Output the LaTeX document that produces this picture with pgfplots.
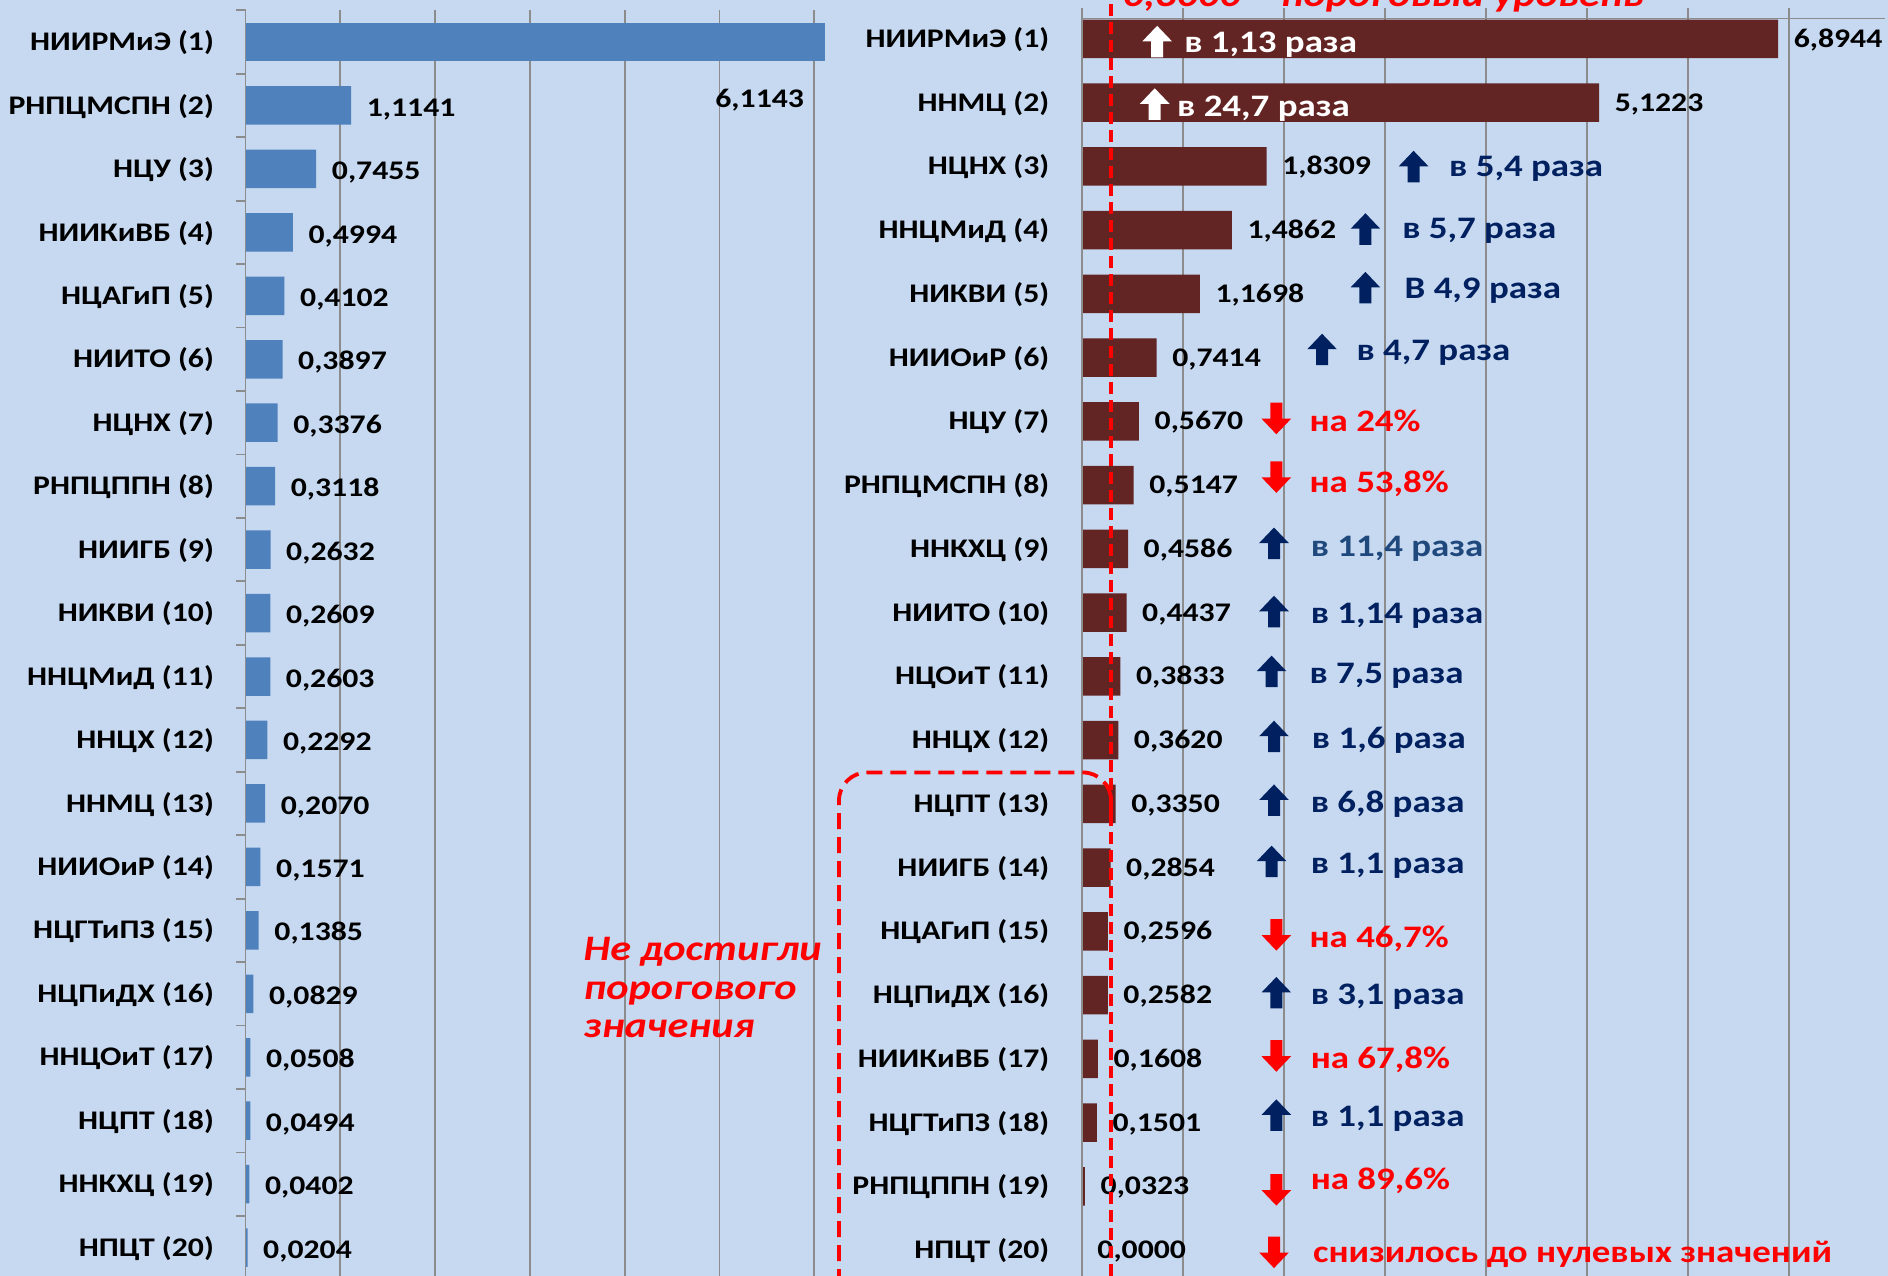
\documentclass[border=0pt]{standalone}
\usepackage{fontspec}
\setmainfont{Carlito}[FakeStretch=1.18]
\usepackage{pgfplots}
\pgfplotsset{compat=1.18}

\definecolor{bgblue}{HTML}{C6D9F1}
\definecolor{barblue}{HTML}{4F81BD}
\definecolor{barred}{HTML}{632523}
\definecolor{navy}{HTML}{002060}
\definecolor{steel}{HTML}{1F497D}
\definecolor{gridgray}{HTML}{8C8C8C}

\newcommand\lab{\fontsize{7.65pt}{9pt}\selectfont\bfseries}
\newcommand\ann{\fontsize{8.9pt}{10pt}\selectfont\bfseries}

% block arrows and notes, used inside the right axis
\newcommand\arrUp[3]{\fill[#1] (axis cs:#2,#3) ++(-0.06cm,-0.16cm) -- ++(0cm,0.16cm) -- ++(-0.088cm,0cm) -- ++(0.148cm,0.155cm) -- ++(0.148cm,-0.155cm) -- ++(-0.088cm,0cm) -- ++(0cm,-0.16cm) -- cycle;}
\newcommand\arrDn[3]{\fill[#1] (axis cs:#2,#3) ++(-0.06cm,0.16cm) -- ++(0cm,-0.16cm) -- ++(-0.088cm,0cm) -- ++(0.148cm,-0.155cm) -- ++(0.148cm,0.155cm) -- ++(-0.088cm,0cm) -- ++(0cm,0.16cm) -- cycle;}
\newcommand\note[4]{\node[anchor=west,inner sep=0pt,text height=0.198cm,text depth=0pt,font=\ann,text=#1] at (axis cs:#2,#3) {#4};}

\pgfplotsset{
  twobars/.style={
    y dir=reverse, xmin=0,
    axis line style={draw=none},
    major tick length=0pt,
    xticklabels={},
    xmajorgrids, major grid style={gridgray,line width=0.5pt},
    ytick={1,...,20},
    yticklabel style={font=\lab,anchor=east,inner sep=0pt,text height=0.173cm,text depth=0pt},
    clip=false,
  },
  vals/.style={
    nodes near coords={\pgfmathprintnumber[fixed,fixed zerofill,precision=4,use comma,assume math mode=true]{\pgfplotspointmeta}},
    every node near coord/.append style={font=\lab,text=black,anchor=west,inner sep=0pt,text height=0.173cm,text depth=0pt,xshift=0.15cm},
  },
}

\begin{document}
\begin{tikzpicture}
\fill[bgblue] (0,0) rectangle (18.88,12.76);

% left chart
\begin{axis}[twobars,
  at={(2.456cm,12.657cm)}, anchor=north west,
  x=0.9476cm, y=0.6345cm,
  xmax=6.5, ymin=0.5, ymax=20.6,
  xtick={1,...,6},
  yticklabel style={xshift=-0.31cm},
  yticklabels={НИИРМиЭ (1),РНПЦМСПН (2),НЦУ (3),НИИКиВБ (4),НЦАГиП (5),НИИТО (6),НЦНХ (7),РНПЦППН (8),НИИГБ (9),НИКВИ (10),ННЦМиД (11),ННЦХ (12),ННМЦ (13),НИИОиР (14),НЦГТиПЗ (15),НЦПиДХ (16),ННЦОиТ (17),НЦПТ (18),ННКХЦ (19),НПЦТ (20)},
]
\addplot[xbar,bar shift=0pt,bar width=0.385cm,fill=barblue,draw=none] coordinates {(6.1143,1)};
\addplot[xbar,bar shift=0pt,bar width=0.385cm,fill=barblue,draw=none,vals,every node near coord/.append style={yshift=-0.02cm}] coordinates {
(1.1141,2) (0.7455,3) (0.4994,4) (0.4102,5) (0.3897,6) (0.3376,7) (0.3118,8) (0.2632,9) (0.2609,10) (0.2603,11)
(0.2292,12) (0.2070,13) (0.1571,14) (0.1385,15) (0.0829,16) (0.0508,17) (0.0494,18) (0.0402,19) (0.0204,20)};
\draw[gridgray,line width=0.5pt] (axis cs:0,0.5) -- (axis cs:0,20.6);
\pgfplotsinvokeforeach{0.5,1.5,...,20.5}{\draw[gridgray,line width=0.5pt] (axis cs:0,#1) -- ++(-0.1cm,0cm);}
\node[font=\lab,anchor=east,inner sep=0pt,text height=0.173cm,text depth=0pt] at (axis cs:5.9,1.9) {6,1143};
\end{axis}

% right chart
\begin{axis}[twobars,
  at={(10.817cm,12.575cm)}, anchor=north west,
  x=1.01cm, y=0.6375cm,
  xmax=7.95, ymin=0.682, ymax=21,
  xtick={1,...,7},
  yticklabel style={xshift=-0.317cm},
  yticklabels={НИИРМиЭ (1),ННМЦ (2),НЦНХ (3),ННЦМиД (4),НИКВИ (5),НИИОиР (6),НЦУ (7),РНПЦМСПН (8),ННКХЦ (9),НИИТО (10),НЦОиТ (11),ННЦХ (12),НЦПТ (13),НИИГБ (14),НЦАГиП (15),НЦПиДХ (16),НИИКиВБ (17),НЦГТиПЗ (18),РНПЦППН (19),НПЦТ (20)},
]
\addplot[xbar,bar shift=0pt,bar width=0.385cm,fill=barred,draw=none,vals] coordinates {
(6.8944,1) (5.1223,2) (1.8309,3) (1.4862,4) (1.1698,5) (0.7414,6) (0.5670,7) (0.5147,8) (0.4586,9) (0.4437,10)
(0.3833,11) (0.3620,12) (0.3350,13) (0.2854,14) (0.2596,15) (0.2582,16) (0.1608,17) (0.1501,18) (0.0323,19) (0,20)};
\draw[gridgray,line width=0.5pt] (axis cs:0,0.682) -- (axis cs:0,21);
\draw[gridgray,line width=0.5pt] (axis cs:0,0.682) -- (axis cs:7.95,0.682);
\pgfplotsinvokeforeach{0,...,7}{\draw[gridgray,line width=0.5pt] (axis cs:#1,0.682) -- ++(0cm,0.1cm);}

\arrUp{white}{0.747}{1.04}  \note{white}{1.009}{1.06}{в 1,13 раза}
\arrUp{white}{0.723}{2.02}  \note{white}{0.938}{2.06}{в 24,7 раза}
\arrUp{navy}{3.286}{3.0}    \note{navy}{3.632}{3.0}{в 5,4 раза}
\arrUp{navy}{2.809}{3.98}   \note{navy}{3.167}{3.98}{в 5,7 раза}
\arrUp{navy}{2.809}{4.9}    \note{navy}{3.191}{4.92}{В 4,9 раза}
\arrUp{navy}{2.380}{5.87}   \note{navy}{2.714}{5.89}{в 4,7 раза}
\arrDn{red}{1.927}{6.96}    \note{red}{2.249}{7.0}{на 24\%}
\arrDn{red}{1.927}{7.88}    \note{red}{2.249}{7.96}{на 53,8\%}
\arrUp{navy}{1.904}{8.91}   \note{steel}{2.261}{8.96}{в 11,4 раза}
\arrUp{navy}{1.904}{9.98}   \note{navy}{2.261}{10.02}{в 1,14 раза}
\arrUp{navy}{1.880}{10.92}  \note{navy}{2.249}{10.96}{в 7,5 раза}
\arrUp{navy}{1.904}{11.94}  \note{navy}{2.273}{11.98}{в 1,6 раза}
\arrUp{navy}{1.904}{12.94}  \note{navy}{2.261}{12.98}{в 6,8 раза}
\arrUp{navy}{1.880}{13.9}   \note{navy}{2.261}{13.94}{в 1,1 раза}
\arrDn{red}{1.927}{15.06}   \note{red}{2.249}{15.1}{на 46,7\%}
\arrUp{navy}{1.927}{15.96}  \note{navy}{2.261}{16.0}{в 3,1 раза}
\arrDn{red}{1.927}{16.96}   \note{red}{2.261}{17.0}{на 67,8\%}
\arrUp{navy}{1.927}{17.88}  \note{navy}{2.261}{17.9}{в 1,1 раза}
\arrDn{red}{1.927}{19.06}   \note{red}{2.261}{18.9}{на 89,6\%}
\arrDn{red}{1.904}{20.04}   \note{red}{2.284}{20.04}{снизилось до нулевых значений}
\end{axis}

% threshold line, its caption and the box round the rows below it
\draw[red,line width=0.045cm,dash pattern=on 0.12cm off 0.06cm] (11.11,12.9) -- (11.11,-0.1);
\node[anchor=base west,inner sep=0pt,text=red,font=\fontsize{10.2pt}{12pt}\selectfont\bfseries\itshape] at (11.22,12.69) {0,3000 – пороговый уровень};
\draw[red,line width=0.038cm,dash pattern=on 0.16cm off 0.08cm,rounded corners=0.28cm] (11.11,4.56) -- (11.11,5.035) -- (8.39,5.035) -- (8.39,-0.1);
\node[anchor=base west,align=left,inner sep=0pt,text=red,font=\fontsize{10.2pt}{0.385cm}\selectfont\bfseries\itshape] at (5.83,2.38) {Не достигли\\порогового\\значения};

\pgfresetboundingbox
\path[use as bounding box] (0,0) rectangle (18.88,12.76);
\end{tikzpicture}
\end{document}
